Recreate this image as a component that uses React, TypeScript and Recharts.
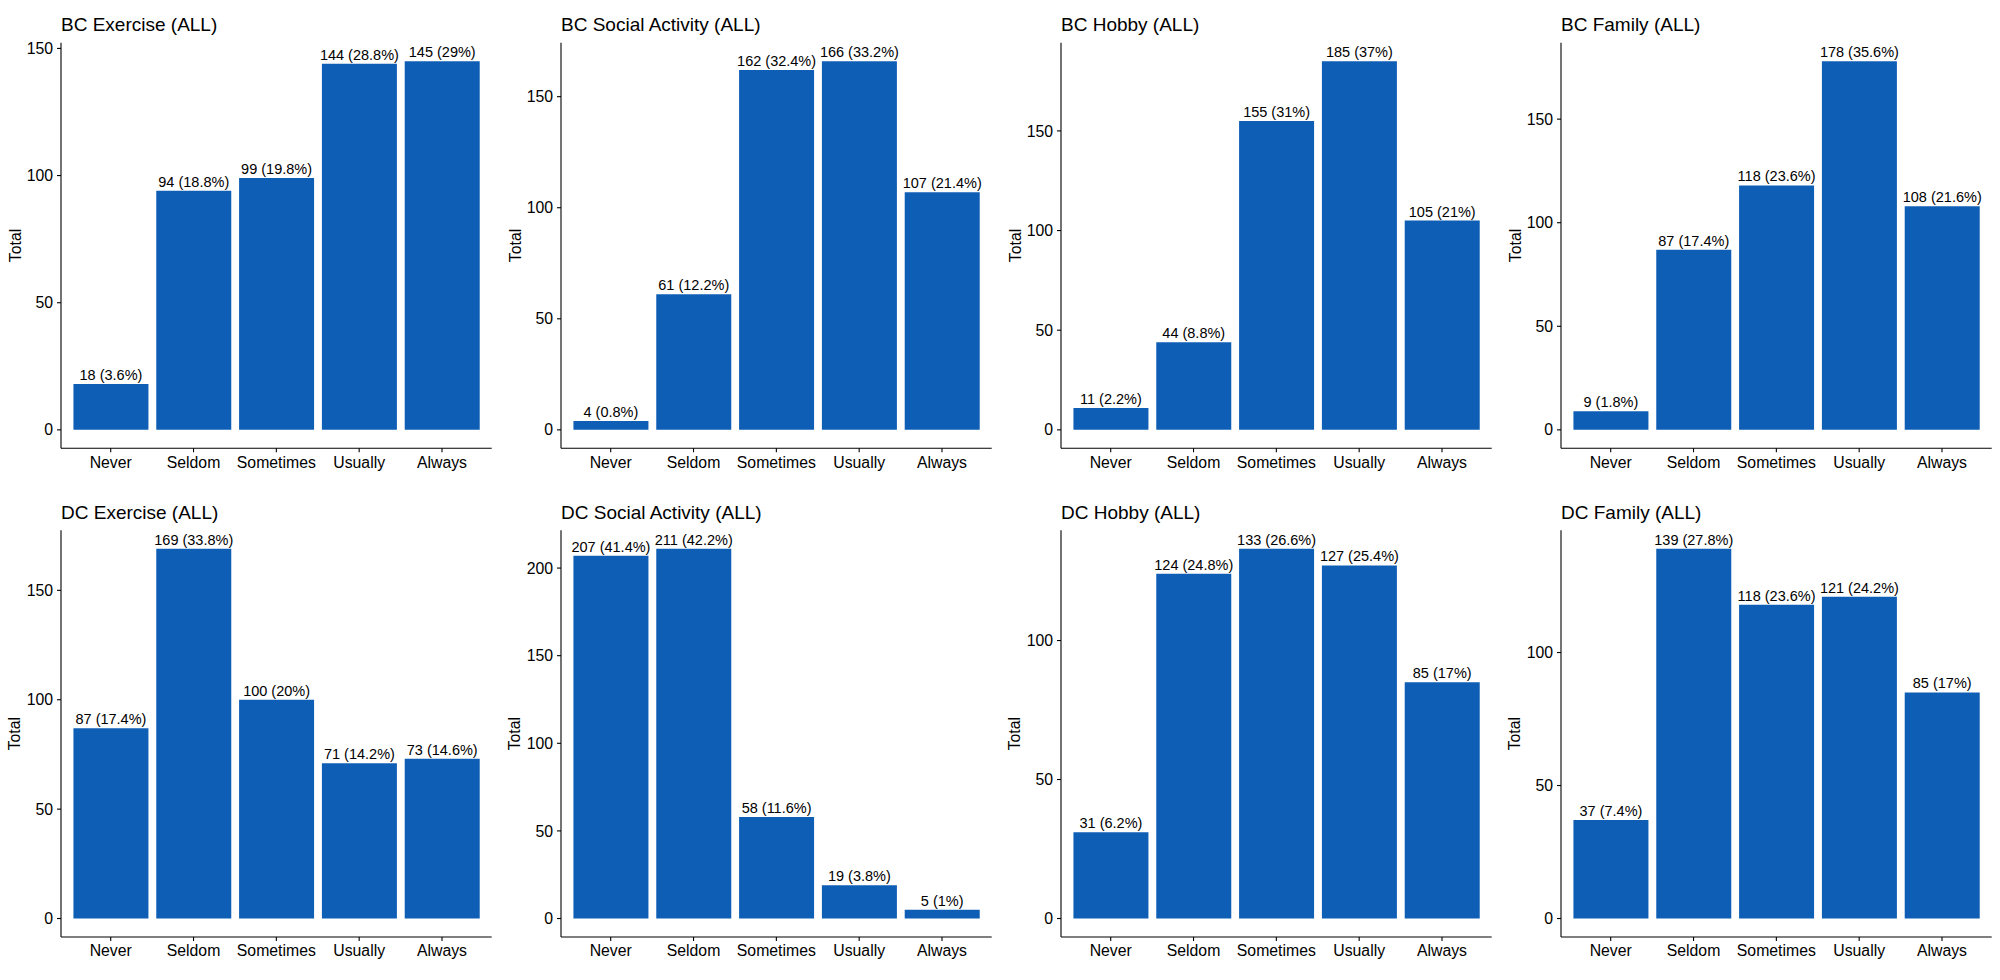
import React from "react";
import { BarChart, Bar, XAxis, YAxis, LabelList } from "recharts";

const categories = ["Never", "Seldom", "Sometimes", "Usually", "Always"];

const bcExerciseTotals = [18, 94, 99, 144, 145];
const bcExercisePct = ["3.6", "18.8", "19.8", "28.8", "29"];
const bcSocialTotals = [4, 61, 162, 166, 107];
const bcSocialPct = ["0.8", "12.2", "32.4", "33.2", "21.4"];
const bcHobbyTotals = [11, 44, 155, 185, 105];
const bcHobbyPct = ["2.2", "8.8", "31", "37", "21"];
const bcFamilyTotals = [9, 87, 118, 178, 108];
const bcFamilyPct = ["1.8", "17.4", "23.6", "35.6", "21.6"];

const dcExerciseTotals = [87, 169, 100, 71, 73];
const dcExercisePct = ["17.4", "33.8", "20", "14.2", "14.6"];
const dcSocialTotals = [207, 211, 58, 19, 5];
const dcSocialPct = ["41.4", "42.2", "11.6", "3.8", "1"];
const dcHobbyTotals = [31, 124, 133, 127, 85];
const dcHobbyPct = ["6.2", "24.8", "26.6", "25.4", "17"];
const dcFamilyTotals = [37, 139, 118, 121, 85];
const dcFamilyPct = ["7.4", "27.8", "23.6", "24.2", "17"];

const ticks150 = [0, 50, 100, 150];
const ticks200 = [0, 50, 100, 150, 200];
const ticks100 = [0, 50, 100];

const FONT = "'Liberation Sans', Arial, Helvetica, sans-serif";
const BAR_COLOR = "#0E5EB6";

type PanelProps = {
  title: string;
  totals: number[];
  pcts: string[];
  ticks: number[];
  row: number;
};

const renderBarLabel = (props: any) => {
  const { x, y, width, value } = props;
  return (
    <text
      x={Number(x) + Number(width) / 2}
      y={Number(y) - 4}
      textAnchor="middle"
      fill="#000"
      fontSize={14.5}
      fontFamily={FONT}
    >
      {value}
    </text>
  );
};

function Panel({ title, totals, pcts, ticks, row }: PanelProps) {
  const data = categories.map((c, i) => ({
    category: c,
    total: totals[i],
    label: `${totals[i]} (${pcts[i]}%)`,
  }));
  const max = Math.max(...totals);
  const top = row === 0 ? 42.7 : 40.3;
  const xAxisY = row === 0 ? 448.3 : 447;
  const xh = 490 - xAxisY;
  const titleY = row === 0 ? 30.7 : 29.3;
  const plotMid = (top + xAxisY) / 2;
  return (
    <BarChart
      width={500}
      height={490}
      data={data}
      margin={{ top, right: 8.3, bottom: 0, left: 0 }}
      barCategoryGap="5%"
      style={{ fontFamily: FONT }}
    >
      <text x={61} y={titleY} fontSize={19} fill="#000" fontFamily={FONT}>
        {title}
      </text>
      <text
        x={20.5}
        y={plotMid}
        transform={`rotate(-90, 20.5, ${plotMid})`}
        textAnchor="middle"
        fontSize={15.8}
        fill="#000"
        fontFamily={FONT}
      >
        Total
      </text>
      <XAxis
        dataKey="category"
        type="category"
        height={xh}
        padding={{ left: 8.3, right: 8.3 }}
        axisLine={{ stroke: "#000", strokeWidth: 1.1 }}
        tickLine={{ stroke: "#000", strokeWidth: 1.1 }}
        tickSize={4}
        tickMargin={4}
        tick={{ fill: "#000", fontSize: 15.8, fontFamily: FONT }}
        interval={0}
      />
      <YAxis
        type="number"
        width={61}
        domain={[-0.05 * max, 1.05 * max]}
        ticks={ticks}
        allowDataOverflow
        axisLine={{ stroke: "#000", strokeWidth: 1.1 }}
        tickLine={{ stroke: "#000", strokeWidth: 1.1 }}
        tickSize={4}
        tickMargin={4}
        tick={{ fill: "#000", fontSize: 15.8, fontFamily: FONT }}
      />
      <Bar dataKey="total" fill={BAR_COLOR} isAnimationActive={false}>
        <LabelList dataKey="label" position="top" content={renderBarLabel} />
      </Bar>
    </BarChart>
  );
}

export default function App() {
  return (
    <div
      style={{
        position: "absolute",
        left: 0,
        top: 0,
        width: 2000,
        height: 980,
        background: "#fff",
        display: "grid",
        gridTemplateColumns: "500px 500px 500px 500px",
        gridTemplateRows: "490px 490px",
      }}
    >
      <Panel title="BC Exercise (ALL)" totals={bcExerciseTotals} pcts={bcExercisePct} ticks={ticks150} row={0} />
      <Panel title="BC Social Activity (ALL)" totals={bcSocialTotals} pcts={bcSocialPct} ticks={ticks150} row={0} />
      <Panel title="BC Hobby (ALL)" totals={bcHobbyTotals} pcts={bcHobbyPct} ticks={ticks150} row={0} />
      <Panel title="BC Family (ALL)" totals={bcFamilyTotals} pcts={bcFamilyPct} ticks={ticks150} row={0} />
      <Panel title="DC Exercise (ALL)" totals={dcExerciseTotals} pcts={dcExercisePct} ticks={ticks150} row={1} />
      <Panel title="DC Social Activity (ALL)" totals={dcSocialTotals} pcts={dcSocialPct} ticks={ticks200} row={1} />
      <Panel title="DC Hobby (ALL)" totals={dcHobbyTotals} pcts={dcHobbyPct} ticks={ticks100} row={1} />
      <Panel title="DC Family (ALL)" totals={dcFamilyTotals} pcts={dcFamilyPct} ticks={ticks100} row={1} />
    </div>
  );
}
